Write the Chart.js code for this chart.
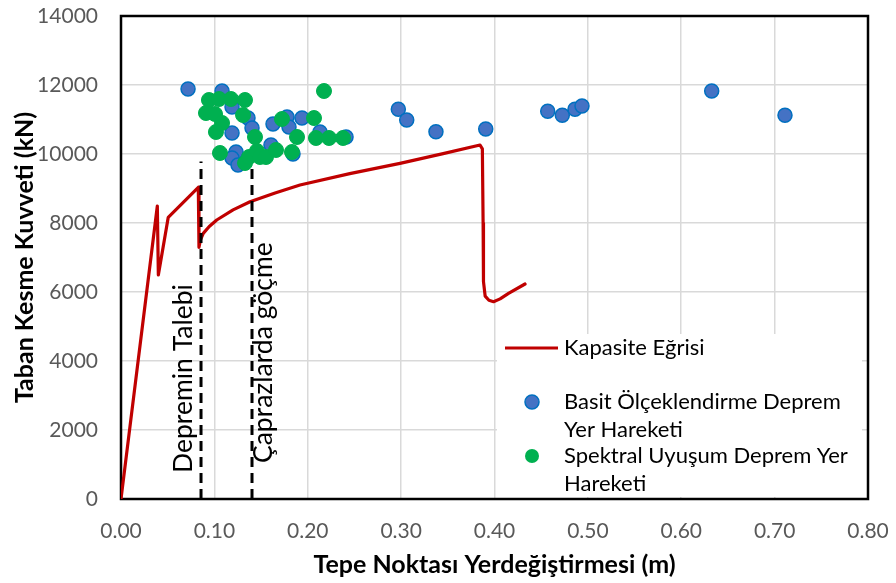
<!DOCTYPE html>
<html>
<head>
<meta charset="utf-8">
<script src="https://cdn.jsdelivr.net/npm/chart.js@4/dist/chart.umd.min.js"></script>
<style>
  html, body { margin: 0; padding: 0; background: #fff; }
  #wrap { width: 896px; height: 583px; }
</style>
</head>
<body>
<div id="wrap"><canvas id="c" width="896" height="583"></canvas></div>
<script>
// Pushover capacity curve: roof displacement (m) vs base shear (kN)
const capacityX = [0, 0.0389, 0.0400, 0.0506, 0.0828, 0.0835, 0.0851, 0.0881, 0.0945, 0.1025, 0.1200,
  0.1382, 0.1650, 0.1917, 0.2450, 0.2988, 0.3450, 0.3845, 0.3870, 0.3878, 0.3882, 0.3900, 0.3940,
  0.3990, 0.4060, 0.4150, 0.4327];
const capacityY = [0, 8493, 6493, 8165, 9035, 7296, 7510, 7700, 7900, 8087, 8380,
  8617, 8870, 9101, 9430, 9730, 10010, 10261, 10150, 8000, 6300, 5880, 5760,
  5720, 5800, 5960, 6232];

// Peak responses, simply scaled ground motions
const basitX = [0.0718, 0.1082, 0.1189, 0.1189, 0.1360, 0.1403, 0.1232, 0.1189, 0.1253, 0.1606,
  0.1628, 0.1778, 0.1799, 0.1938, 0.2131, 0.1842, 0.2410, 0.2970, 0.3060, 0.3373,
  0.3906, 0.4570, 0.4726, 0.4862, 0.4937, 0.6326, 0.7111];
const basitY = [11884, 11826, 11362, 10609, 11043, 10754, 10058, 9884, 9681, 10261,
  10870, 11072, 10783, 11043, 10638, 10000, 10493, 11296, 10986, 10646,
  10725, 11238, 11122, 11296, 11391, 11826, 11122];

// Peak responses, spectrally matched ground motions
const spektralX = [0.0942, 0.1050, 0.1178, 0.1328, 0.0910, 0.1007, 0.1307, 0.1082, 0.1017, 0.1435,
  0.1060, 0.1328, 0.1371, 0.1456, 0.1489, 0.1553, 0.1660, 0.1724, 0.1885, 0.1831,
  0.2067, 0.2088, 0.2228, 0.2378, 0.2174];
const spektralY = [11565, 11594, 11594, 11565, 11188, 11159, 11130, 10899, 10638, 10493,
  10029, 9739, 9913, 10087, 9913, 9913, 10116, 11014, 10493, 10058,
  11043, 10464, 10464, 10464, 11826];

// Vertical marker lines: earthquake demand and brace failure
const demandX = 0.0857;
const braceFailX = 0.1403;
const markerTopY = 9780;

// Axis tick labels
const xTickLabels = ['0.00', '0.10', '0.20', '0.30', '0.40', '0.50', '0.60', '0.70', '0.80'];
const yTickLabels = ['0', '2000', '4000', '6000', '8000', '10000', '12000', '14000'];

const FONT = 'Lato, "Open Sans", sans-serif';
const toPoints = (xs, ys) => xs.map((x, i) => ({ x: x, y: ys[i] }));

// Black frame round the plot area
const frame = {
  id: 'frame',
  beforeDatasetsDraw(chart) {
    const { ctx, chartArea: a } = chart;
    ctx.save();
    ctx.strokeStyle = '#000';
    ctx.lineWidth = 2.5;
    ctx.strokeRect(a.left, a.top, a.right - a.left, a.bottom - a.top);
    ctx.restore();
  }
};

// Rotated labels beside the dashed marker lines
const markerLabels = {
  id: 'markerLabels',
  afterDatasetsDraw(chart) {
    const { ctx, chartArea: a, scales } = chart;
    const put = (text, baseX, startY) => {
      ctx.save();
      ctx.translate(baseX, startY);
      ctx.rotate(-Math.PI / 2);
      ctx.font = '26.5px ' + FONT;
      ctx.fillStyle = '#000';
      ctx.textAlign = 'left';
      ctx.textBaseline = 'alphabetic';
      ctx.fillText(text, 0, 0);
      ctx.restore();
    };
    put('Depremin Talebi', scales.x.getPixelForValue(demandX) - 9, a.bottom - 26);
    put('Çaprazlarda göçme', scales.x.getPixelForValue(braceFailX) + 20, a.bottom - 36);
  }
};

// Legend box in the lower right of the plot
const legendBox = {
  id: 'legendBox',
  afterDatasetsDraw(chart) {
    const { ctx } = chart;
    ctx.save();
    ctx.fillStyle = '#fff';
    ctx.fillRect(497, 334, 365, 163);
    ctx.font = '22px ' + FONT;
    ctx.fillStyle = '#000';
    ctx.textAlign = 'left';
    ctx.textBaseline = 'middle';

    ctx.strokeStyle = '#c00000';
    ctx.lineWidth = 3;
    ctx.beginPath();
    ctx.moveTo(505, 348);
    ctx.lineTo(558, 348);
    ctx.stroke();
    ctx.fillText('Kapasite Eğrisi', 564, 348);

    ctx.beginPath();
    ctx.arc(532, 402, 7, 0, Math.PI * 2);
    ctx.fillStyle = '#4472c4';
    ctx.fill();
    ctx.lineWidth = 1.5;
    ctx.strokeStyle = '#0070c0';
    ctx.stroke();
    ctx.fillStyle = '#000';
    ctx.fillText('Basit Ölçeklendirme Deprem', 564, 402);
    ctx.fillText('Yer Hareketi', 564, 430);

    ctx.beginPath();
    ctx.arc(532, 456, 7, 0, Math.PI * 2);
    ctx.fillStyle = '#00b050';
    ctx.fill();
    ctx.fillStyle = '#000';
    ctx.fillText('Spektral Uyuşum Deprem Yer', 564, 456);
    ctx.fillText('Hareketi', 564, 484);
    ctx.restore();
  }
};

function draw() {
  Chart.defaults.font.family = FONT;
  new Chart(document.getElementById('c'), {
    type: 'scatter',
    data: {
      datasets: [
        {
          label: 'Spektral Uyuşum Deprem Yer Hareketi',
          data: toPoints(spektralX, spektralY),
          backgroundColor: '#00b050',
          borderColor: '#00b050',
          borderWidth: 1,
          pointRadius: 7.5,
          order: 0
        },
        {
          label: 'Basit Ölçeklendirme Deprem Yer Hareketi',
          data: toPoints(basitX, basitY),
          backgroundColor: '#4472c4',
          borderColor: '#0070c0',
          borderWidth: 1.5,
          pointRadius: 7,
          order: 1
        },
        {
          label: 'Depremin Talebi',
          data: [{ x: demandX, y: 0 }, { x: demandX, y: markerTopY }],
          showLine: true,
          borderColor: '#000',
          borderWidth: 3,
          borderDash: [10, 6],
          pointRadius: 0,
          order: 2
        },
        {
          label: 'Çaprazlarda göçme',
          data: [{ x: braceFailX, y: 0 }, { x: braceFailX, y: markerTopY }],
          showLine: true,
          borderColor: '#000',
          borderWidth: 3,
          borderDash: [10, 6],
          pointRadius: 0,
          order: 2
        },
        {
          label: 'Kapasite Eğrisi',
          data: toPoints(capacityX, capacityY),
          showLine: true,
          borderColor: '#c00000',
          borderWidth: 3.2,
          borderJoinStyle: 'round',
          borderCapStyle: 'round',
          pointRadius: 0,
          tension: 0,
          order: 3
        }
      ]
    },
    options: {
      responsive: false,
      animation: false,
      layout: { padding: { top: 16, right: 28, left: 0, bottom: 0 } },
      plugins: { legend: { display: false }, tooltip: { enabled: false } },
      scales: {
        x: {
          type: 'linear',
          min: 0, max: 0.8,
          afterFit(s) { s.height = 84; s.paddingLeft = 0; s.paddingRight = 0; },
          ticks: {
            stepSize: 0.1,
            autoSkip: false,
            maxRotation: 0,
            padding: 20,
            color: '#595959',
            font: { size: 21 },
            callback: (v, i) => xTickLabels[i]
          },
          grid: { color: '#d9d9d9', lineWidth: 1.5, drawTicks: false },
          border: { display: false },
          title: {
            display: true,
            text: 'Tepe Noktası Yerdeğiştirmesi (m)',
            color: '#000',
            font: { size: 25, weight: 'bold' },
            padding: { top: 0, bottom: 3 }
          }
        },
        y: {
          type: 'linear',
          min: 0, max: 14000,
          afterFit(s) { s.width = 121; s.paddingTop = 0; s.paddingBottom = 0; },
          ticks: {
            stepSize: 2000,
            padding: 23,
            color: '#595959',
            font: { size: 21 },
            callback: (v, i) => yTickLabels[i]
          },
          grid: { color: '#d9d9d9', lineWidth: 1.5, drawTicks: false },
          border: { display: false },
          title: {
            display: true,
            text: 'Taban Kesme Kuvveti (kN)',
            color: '#000',
            font: { size: 25, weight: 'bold' },
            padding: { top: 10, bottom: 0 }
          }
        }
      }
    },
    plugins: [frame, markerLabels, legendBox]
  });
}

const loads = ['21px Lato', 'bold 25px Lato', '26.5px Lato', '22px Lato'].map(f => document.fonts.load(f));
Promise.all(loads).then(draw, draw);
</script>
</body>
</html>
